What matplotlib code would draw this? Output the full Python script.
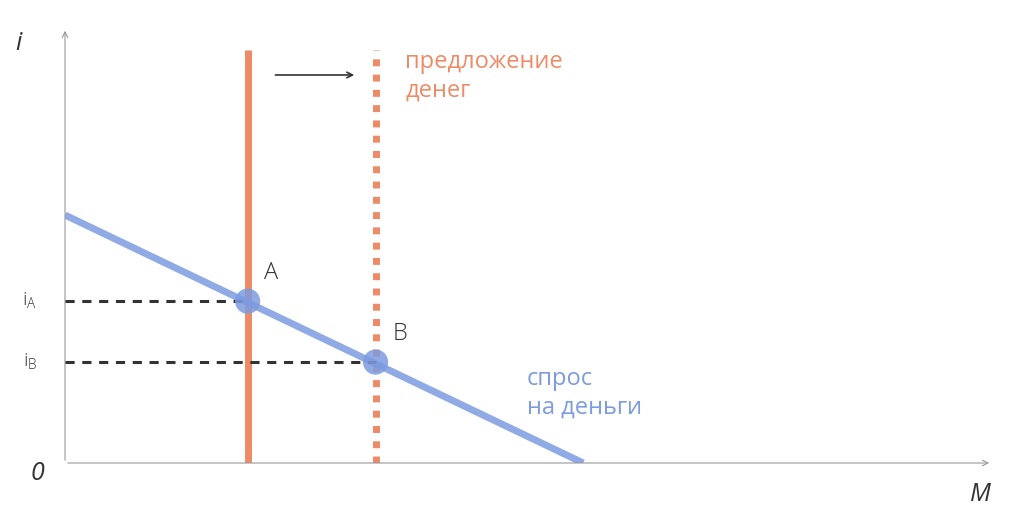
import matplotlib
matplotlib.use("Agg")
import matplotlib.pyplot as plt

demand_x = [0.0, 5.59]
demand_y = [5.70, 0.0]
supply_x = [1.97, 3.35]
supply_top = 9.49
points_x = [1.97, 3.35]
points_y = [3.72, 2.32]
point_labels = ["A", "B"]
rate_labels = ["i$_{\\mathregular{A}}$", "i$_{\\mathregular{B}}$"]

orange = "#EE8A66"
blue = "#7C9BE0"
plt.rcParams['font.family'] = ['Open Sans', 'DejaVu Sans']

fig = plt.figure(figsize=(10.24, 5.32), dpi=100)
ax = fig.add_axes([65/1024, 69/532, 927/1024, 435/532])
ax.set_xlim(0, 10)
ax.set_ylim(0, 10)
ax.axis('off')

ax.annotate("", xy=(10.0, 0), xytext=(0, 0), arrowprops=dict(arrowstyle="->", color="#999999", lw=0.8), annotation_clip=False)
ax.annotate("", xy=(0, 10.0), xytext=(0, 0), arrowprops=dict(arrowstyle="->", color="#999999", lw=0.8), annotation_clip=False)

ax.plot(demand_x, demand_y, color=blue, lw=5, alpha=0.85, solid_capstyle='butt', zorder=2)
ax.plot([supply_x[0]] * 2, [0, supply_top], color=orange, lw=5, solid_capstyle='butt', zorder=1)
ax.plot([supply_x[1]] * 2, [0, supply_top], color=orange, lw=5, ls=(0, (1, 1.2)), solid_capstyle='butt', zorder=1)

for x, y, lab, rl in zip(points_x, points_y, point_labels, rate_labels):
    ax.plot([0, x], [y, y], color="#333333", lw=2.2, ls=(0, (3, 2.5)), zorder=3)
    ax.scatter([x], [y], s=330, color=blue, alpha=0.85, zorder=4, edgecolors='none')
    ax.text(x + 0.18, y + 0.5, lab, fontsize=17, color="#333333", fontweight='light')
    ax.text(-0.3, y, rl, fontsize=14, color="#333333", ha='right', va='center', fontweight='light')

ax.annotate("", xy=(3.15, 8.92), xytext=(2.24, 8.92), arrowprops=dict(arrowstyle="->", color="#333333", lw=1.2))
ax.text(3.67, 9.5, "предложение\nденег", fontsize=17, color=orange, va='top', linespacing=1.25)
ax.text(4.98, 2.2, "спрос\nна деньги", fontsize=17, color=blue, va='top', linespacing=1.25)

ax.text(-0.5, 9.65, "i", fontsize=18, style='italic', color="#333333", ha='center', va='center', transform=ax.transData, clip_on=False)
ax.text(9.87, -0.73, "M", fontsize=18, style='italic', color="#333333", ha='center', va='center', clip_on=False)
ax.text(-0.3, -0.23, "0", fontsize=18, style='italic', color="#333333", ha='center', va='center', clip_on=False)

fig.savefig("out.png", dpi=100)
